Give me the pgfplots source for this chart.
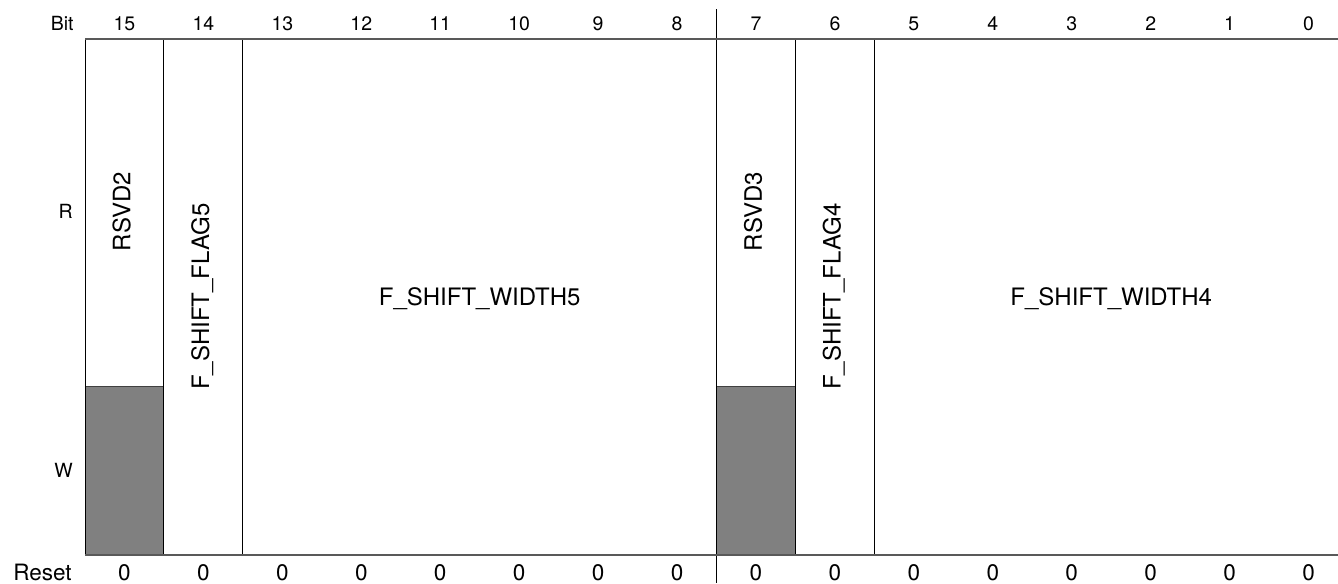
\documentclass[border=0pt]{standalone}
\usepackage{fontspec}
\setmainfont{TeX Gyre Heros}
\usepackage{pgfplots}
\pgfplotsset{compat=1.18}
\begin{document}
\begin{tikzpicture}
\begin{axis}[name=ax, width=669pt, height=291.5pt, scale only axis,
  xmin=-1.0768, xmax=15.873, ymin=0, ymax=583, y dir=reverse,
  hide axis, clip=true, unbounded coords=jump]
% write-protected (reserved) cells
\addplot[fill=gray, draw=black!75, line width=0.5pt] coordinates {(0,555) (0,386.5) (1,386.5) (1,555)};
\addplot[fill=gray, draw=black!75, line width=0.5pt] coordinates {(8,555) (8,386.5) (9,386.5) (9,555)};
% field borders
\addplot[black, line width=0.5pt] coordinates {
  (0,38.5) (0,555) (nan,nan)
  (1,38.5) (1,555) (nan,nan)
  (2,38.5) (2,555) (nan,nan)
  (9,38.5) (9,555) (nan,nan)
  (10,38.5) (10,555)};
% byte separator
\addplot[black, line width=0.5pt] coordinates {(8,9) (8,583)};
% top and bottom rules
\addplot[black!65, line width=1pt] coordinates {(0,38.5) (16,38.5)};
\addplot[black!65, line width=1pt] coordinates {(0,555) (16,555)};
% row labels
\node[anchor=base east, inner sep=0, font=\fontsize{9.75}{10}\selectfont] at (axis cs:-0.14,30) {Bit};
\node[anchor=base east, inner sep=0, font=\fontsize{9.75}{10}\selectfont] at (axis cs:-0.15,218) {R};
\node[anchor=base east, inner sep=0, font=\fontsize{9.75}{10}\selectfont] at (axis cs:-0.15,477) {W};
\node[anchor=base east, inner sep=0, font=\fontsize{11.25}{12}\selectfont] at (axis cs:-0.165,580) {Reset};
\pgfplotsinvokeforeach{0,...,15}{
  \node[anchor=base, inner sep=0, font=\fontsize{9.75}{10}\selectfont] at (axis cs:{15.5-#1},30) {#1};
  \node[anchor=base, inner sep=0, font=\fontsize{11.25}{12}\selectfont] at (axis cs:{15.5-#1},580) {0};
}
% field names
\node[anchor=base, rotate=90, inner sep=0, font=\fontsize{12}{13}\selectfont] at (axis cs:0.5735,211.5) {RSVD2};
\node[anchor=base, rotate=90, inner sep=0, font=\fontsize{12}{13}\selectfont] at (axis cs:1.5735,296.7) {F\_SHIFT\_FLAG5};
\node[anchor=base, inner sep=0, font=\fontsize{12}{13}\selectfont] at (axis cs:5,305) {F\_SHIFT\_WIDTH5};
\node[anchor=base, rotate=90, inner sep=0, font=\fontsize{12}{13}\selectfont] at (axis cs:8.5735,211.5) {RSVD3};
\node[anchor=base, rotate=90, inner sep=0, font=\fontsize{12}{13}\selectfont] at (axis cs:9.5735,296.7) {F\_SHIFT\_FLAG4};
\node[anchor=base, inner sep=0, font=\fontsize{12}{13}\selectfont] at (axis cs:13,305) {F\_SHIFT\_WIDTH4};
\end{axis}
\pgfresetboundingbox
\useasboundingbox (ax.south west) rectangle (ax.north east);
\end{tikzpicture}
\end{document}
